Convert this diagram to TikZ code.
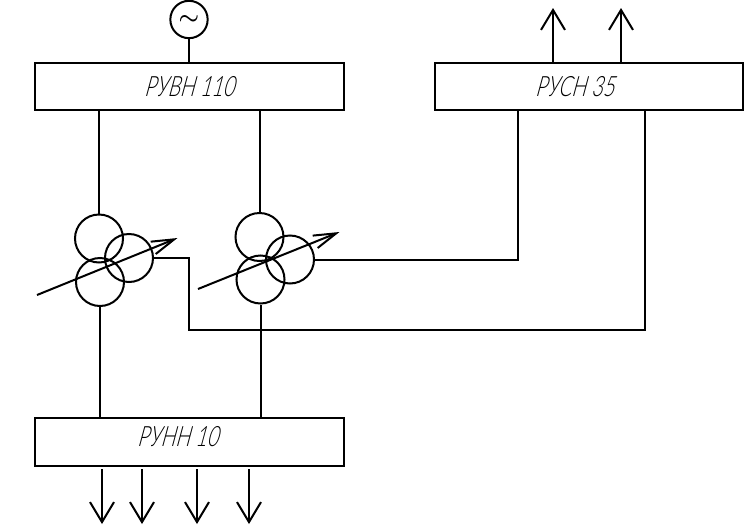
\documentclass[tikz,border=0pt]{standalone}
\usepackage{fontspec}
\usetikzlibrary{arrows.meta}
\newfontfamily\gostfont[FakeSlant=0.27,FakeStretch=0.7]{Lato Light}
\tikzset{
  bus/.style={draw, line width=1.5pt, minimum width=231.5pt, minimum height=35.5pt, inner sep=0pt},
  buslabel/.style={inner sep=0pt, font=\gostfont\fontsize{21}{21}\selectfont},
  winding/.style={circle, draw, line width=1.5pt, minimum size=36pt, inner sep=0pt},
  wire/.style={line width=1.5pt},
  feeder/.style={wire, -{Straight Barb[length=15pt,width=18pt,line width=1.5pt]}},
  regul/.style={wire, -{Straight Barb[length=17pt,width=10pt,line width=1.5pt]}},
}
\begin{document}
\begin{tikzpicture}[x=.75pt,y=-.75pt]
  \useasboundingbox (0,0) rectangle (747,529);
  \coordinate (reg1a) at (37,295);
  \coordinate (reg1b) at (177.5,238);
  \coordinate (reg2a) at (198,289);
  \coordinate (reg2b) at (339.5,232);
  \coordinate (up1) at (553,8);
  \coordinate (up2) at (621,8);
  \coordinate (down1) at (102,524);
  \coordinate (down2) at (142,524);
  \coordinate (down3) at (197,524);
  \coordinate (down4) at (249,524);
  \coordinate (start1) at (102,469);
  \coordinate (start2) at (142,469);
  \coordinate (start3) at (197,469);
  \coordinate (start4) at (249,469);
  \coordinate (bend1) at (189,258);
  \coordinate (bend2) at (189,330);
  \coordinate (bend3) at (645,330);
  \coordinate (bend4) at (518,259.5);
    \node[bus] (ruvn) at (189.5,86.5) {};
    \node[bus] (rusn) at (589,86.5) {};
    \node[bus] (runn) at (189.5,442) {};
    \node[buslabel] (ruvntext) at (189,87) {РУВН 110};
    \node[buslabel] (rusntext) at (574.5,87) {РУСН 35};
    \node[buslabel] (runntext) at (177.5,437) {РУНН 10};
    \node[circle, draw, line width=1.5pt, minimum size=28pt, inner sep=0pt, font=\LARGE\boldmath] (gen) at (189,19.5) {$\sim$};
    \node[winding] (tr1a) at (99,238.5) {};
    \node[winding] (tr1b) at (100,282) {};
    \node[winding] (tr1c) at (129,258) {};
    \node[winding] (tr2a) at (259.5,237) {};
    \node[winding] (tr2b) at (260.5,279.5) {};
    \node[winding] (tr2c) at (290,259.5) {};
  \draw[wire] (gen) -- (gen |- ruvn.north);
  \draw[wire] (tr1a.north) -- (tr1a.north |- ruvn.south);
  \draw[wire] (tr2a.north) -- (tr2a.north |- ruvn.south);
  \draw[wire] (tr1b.south) -- (tr1b.south |- runn.north);
  \draw[wire] (tr2b.south) -- (tr2b.south |- runn.north);
  \draw[wire] (tr1c.east) -- (bend1) -- (bend2) -- (bend3) -- (bend3 |- rusn.south);
  \draw[wire] (tr2c.east) -- (bend4) -- (bend4 |- rusn.south);
  \draw[regul] (reg1a) -- (reg1b);
  \draw[regul] (reg2a) -- (reg2b);
  \draw[feeder] (up1 |- rusn.north) -- (up1);
  \draw[feeder] (up2 |- rusn.north) -- (up2);
  \draw[feeder] (start1) -- (down1);
  \draw[feeder] (start2) -- (down2);
  \draw[feeder] (start3) -- (down3);
  \draw[feeder] (start4) -- (down4);
\end{tikzpicture}
\end{document}
